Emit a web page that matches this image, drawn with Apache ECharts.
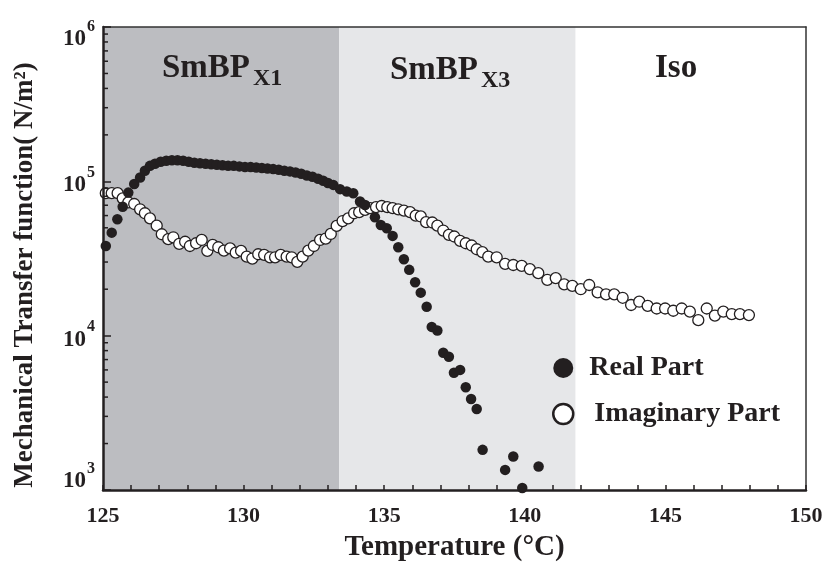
<!DOCTYPE html>
<html>
<head>
<meta charset="utf-8">
<script src="https://cdn.jsdelivr.net/npm/echarts@6/dist/echarts.min.js"></script>
<style>
html,body{margin:0;padding:0;background:#fff;}
#chart{width:829px;height:563px;}
</style>
</head>
<body>
<div id="chart"></div>
<script>
// ---- data (temperature in °C, modulus in N/m^2) ----
const realTemp = [125.10,125.31,125.51,125.70,125.90,126.11,126.32,126.49,126.67,126.85,
  127.05,127.25,127.45,127.65,127.85,128.05,128.25,128.45,128.65,128.85,
  129.05,129.25,129.45,129.65,129.85,130.05,130.25,130.45,130.65,130.85,
  131.05,131.25,131.45,131.65,131.85,132.05,132.25,132.45,132.65,132.83,
  133.00,133.19,133.43,133.67,133.90,134.14,134.32,134.67,134.88,135.09,
  135.30,135.50,135.70,135.89,136.10,136.30,136.51,136.69,136.89,137.10,
  137.30,137.48,137.70,137.90,138.09,138.29,138.50,139.30,139.59,139.91,140.49];
const realValue = [38100,46500,56800,68500,84500,96200,106000,117000,126000,130000,
  134000,136000,137000,137000,136000,134000,132000,131000,130000,129000,
  128000,127000,126000,126000,125000,124000,124000,123000,122000,121000,
  120000,119000,117000,116000,114000,112000,109000,107000,104000,101000,
  97500,94800,89000,85900,83800,74000,70300,58500,52100,49600,
  44300,37400,31300,26700,22200,19000,15400,11400,10800,7760,
  7310,5750,6000,4630,3890,3350,1820,1350,1650,1030,1420];

const imagTemp = [125.10,125.31,125.52,125.70,125.90,126.11,126.32,126.49,126.67,126.91,
  127.09,127.32,127.50,127.71,127.92,128.09,128.31,128.51,128.71,128.90,
  129.10,129.30,129.52,129.72,129.91,130.11,130.31,130.52,130.73,130.94,
  131.12,131.32,131.53,131.71,131.91,132.10,132.30,132.50,132.72,132.92,
  133.10,133.31,133.52,133.72,133.93,134.11,134.32,134.50,134.71,134.91,
  135.11,135.30,135.50,135.70,135.92,136.12,136.30,136.49,136.71,136.89,
  137.10,137.30,137.49,137.70,137.90,138.11,138.29,138.49,138.70,139.00,
  139.30,139.59,139.89,140.18,140.48,140.80,141.10,141.40,141.69,141.99,
  142.29,142.59,142.89,143.18,143.48,143.78,144.07,144.37,144.69,144.99,
  145.28,145.58,145.87,146.17,146.47,146.76,147.06,147.36,147.65,147.97];
const imagValue = [83800,83800,83800,77600,73100,71300,65900,62100,57600,51600,
  45400,42200,43400,39300,40600,38100,39700,41700,35400,38700,
  37400,35600,36800,34500,35400,32500,31600,33700,33400,32200,
  32200,33400,32500,32200,30100,32500,35600,38100,41700,42600,
  45600,51400,55300,57600,62100,63100,65300,67000,68000,69200,
  68000,67000,65900,64600,63100,60000,59200,54400,54100,51600,
  48000,45000,43900,41100,39700,38400,36300,34800,32500,32200,
  29200,28700,28300,27000,25400,23000,23600,21500,21000,20000,
  21300,19100,18500,18500,17600,15800,16600,15600,15000,15000,
  14500,15000,14300,12600,15000,13500,14300,13800,13800,13600];

// phase regions (°C)
const phaseNames = ['SmBP', 'SmBP', 'Iso'];
const phaseSubs = ['X1', 'X3', ''];
const phaseBounds = [125, 133.4, 141.8, 150];

// axis ticks
const xRange = [125, 150];
const yRange = [1000, 1000000];
const yMinorTicks = [2000,3000,4000,5000,6000,7000,8000,9000,
  20000,30000,40000,50000,60000,70000,80000,90000,
  200000,300000,400000,500000,600000,700000,800000,900000];

const FONT = '"Liberation Serif","Times New Roman",serif';
const INK = '#231f20';

const realData = realTemp.map((t, i) => [t, realValue[i]]);
const imagData = imagTemp.map((t, i) => [t, imagValue[i]]);

function yLabel(v) {
  const e = Math.round(Math.log10(v));
  const k = e === 6 ? 't' : (e === 3 ? 'l' : 'm');
  return '{b' + k + '|10}{s' + k + '|' + e + '}';
}
function bStyle(h) {
  return {fontSize: 23, fontWeight: 'bold', fontFamily: FONT, color: INK, verticalAlign: 'bottom', lineHeight: h};
}
function sStyle(h) {
  return {fontSize: 16, fontWeight: 'bold', fontFamily: FONT, color: INK, verticalAlign: 'bottom', lineHeight: h, padding: [0, 0, 16, 1]};
}

const chart = echarts.init(document.getElementById('chart'), null, {renderer: 'canvas'});
chart.setOption({
  animation: false,
  backgroundColor: '#fff',
  grid: {left: 103, right: 23, top: 27, bottom: 73, containLabel: false},
  xAxis: [{
    type: 'value', min: xRange[0], max: xRange[1], interval: 5, z: 10,
    axisLine: {show: true, onZero: false, lineStyle: {color: INK, width: 2.5}},
    axisTick: {show: true, inside: true, length: 5, lineStyle: {color: INK, width: 1.5}},
    minorTick: {show: true, splitNumber: 5, length: 5, lineStyle: {color: INK, width: 1.5}},
    splitLine: {show: false},
    axisLabel: {margin: 15, fontSize: 22, fontWeight: 'bold', fontFamily: FONT, color: INK}
  }, {
    type: 'value', position: 'top', min: xRange[0], max: xRange[1], z: 10,
    axisLine: {show: true, onZero: false, lineStyle: {color: '#333', width: 1.5}},
    axisTick: {show: false}, axisLabel: {show: false}, splitLine: {show: false}
  }],
  yAxis: [{
    type: 'log', logBase: 10, min: yRange[0], max: yRange[1], z: 10,
    axisLine: {show: true, onZero: false, lineStyle: {color: INK, width: 2.5}},
    axisTick: {show: true, inside: true, length: 8, lineStyle: {color: INK, width: 1.5}},
    splitLine: {show: false},
    axisLabel: {
      margin: 8, formatter: yLabel,
      rich: {
        bt: bStyle(47), st: sStyle(47),
        bm: bStyle(31), sm: sStyle(31),
        bl: bStyle(6), sl: sStyle(6)
      }
    }
  }, {
    type: 'value', position: 'right', min: 0, max: 1, z: 10,
    axisLine: {show: true, onZero: false, lineStyle: {color: '#333', width: 1.5}},
    axisTick: {show: false}, axisLabel: {show: false}, splitLine: {show: false}
  }],
  legend: {
    orient: 'vertical', left: 552, top: 354, padding: 0, itemWidth: 20, itemHeight: 20, itemGap: 18,
    textStyle: {fontSize: 28, fontWeight: 'bold', fontFamily: FONT, color: INK},
    data: [
      {name: 'Real Part', icon: 'circle', textStyle: {padding: [0, 0, 0, 11]}},
      {name: 'Imaginary Part', icon: 'circle', itemStyle: {borderWidth: 2.5, borderColor: INK, color: '#fff'}, textStyle: {padding: [0, 0, 0, 16]}}
    ]
  },
  series: [
    {
      type: 'line', data: [], z: 0, silent: true,
      markArea: {
        silent: true,
        data: [
          [{xAxis: phaseBounds[0], itemStyle: {color: '#bcbdc1'}}, {xAxis: phaseBounds[1]}],
          [{xAxis: phaseBounds[1], itemStyle: {color: '#e6e7e9'}}, {xAxis: phaseBounds[2]}]
        ]
      }
    },
    {
      type: 'custom', z: 11, silent: true,
      data: yMinorTicks.map(v => [xRange[0], v]),
      renderItem: function (params, api) {
        const p = api.coord([api.value(0), api.value(1)]);
        return {type: 'line', shape: {x1: p[0], y1: p[1], x2: p[0] + 5, y2: p[1]},
          style: {stroke: INK, lineWidth: 1.5}};
      }
    },
    {
      name: 'Imaginary Part', type: 'scatter', data: imagData, z: 3,
      symbol: 'circle', symbolSize: 11,
      itemStyle: {color: '#fff', borderColor: INK, borderWidth: 1.3, opacity: 1}
    },
    {
      name: 'Real Part', type: 'scatter', data: realData, z: 4,
      symbol: 'circle', symbolSize: 10.5,
      itemStyle: {color: INK, opacity: 1}
    }
  ],
  graphic: [
    {type: 'text', x: 162, y: 68, z: 20, style: {text: phaseNames[0], font: 'bold 33px ' + FONT, fill: INK, align: 'left', verticalAlign: 'middle'}},
    {type: 'text', x: 253, y: 78.5, z: 20, style: {text: phaseSubs[0], font: 'bold 24px ' + FONT, fill: INK, align: 'left', verticalAlign: 'middle'}},
    {type: 'text', x: 390, y: 70, z: 20, style: {text: phaseNames[1], font: 'bold 33px ' + FONT, fill: INK, align: 'left', verticalAlign: 'middle'}},
    {type: 'text', x: 481, y: 80.5, z: 20, style: {text: phaseSubs[1], font: 'bold 24px ' + FONT, fill: INK, align: 'left', verticalAlign: 'middle'}},
    {type: 'text', x: 655, y: 68, z: 20, style: {text: phaseNames[2], font: 'bold 33px ' + FONT, fill: INK, align: 'left', verticalAlign: 'middle'}},
    {type: 'text', x: 454.5, y: 548, z: 20, style: {text: 'Temperature (°C)', font: 'bold 29px ' + FONT, fill: INK, align: 'center', verticalAlign: 'middle'}},
    {type: 'text', x: 25, y: 275, rotation: Math.PI / 2, z: 20, style: {text: 'Mechanical Transfer function( N/m²)', font: 'bold 27px ' + FONT, fill: INK, align: 'center', verticalAlign: 'middle'}}
  ]
});
</script>
</body>
</html>
